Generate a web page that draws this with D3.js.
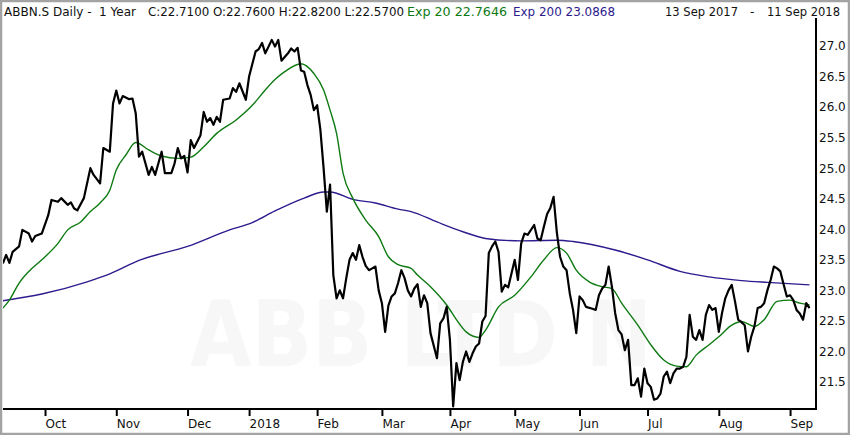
<!DOCTYPE html>
<html lang="en">
<head>
    <meta charset="UTF-8">
    <title>ABBN.S Daily - 1 Year</title>
    <script src="https://d3js.org/d3.v7.min.js"></script>
    <style>
        body { margin: 0; background: #fff; }
        svg text { font-family: "DejaVu Sans", sans-serif; font-size: 12px; fill: #111; }
    </style>
</head>
<body>
    <svg width="850" height="435" id="chart"></svg>

    <script>
        // header texts
        const title = "ABBN.S Daily -\u00a0\u00a01 Year";
        const ohlcText = "C:22.7100 O:22.7600 H:22.8200 L:22.5700";
        const ema20Text = "Exp 20 22.7646";
        const ema200Text = "Exp 200 23.0868";
        const dateFrom = "13 Sep 2017";
        const dateTo = "11 Sep 2018";

        // x axis: trading day index of each month's first session
        const monthLabels = ["Oct", "Nov", "Dec", "2018", "Feb", "Mar", "Apr", "May", "Jun", "Jul", "Aug", "Sep"];
        const monthDay = [13, 35, 57, 76, 97, 117, 138, 158, 178, 199, 221, 243];
        const yTicks = [21.5, 22.0, 22.5, 23.0, 23.5, 24.0, 24.5, 25.0, 25.5, 26.0, 26.5, 27.0];

        // daily close (trading day index)
        const priceDay = [0, 1, 2, 3, 5, 6, 8, 9, 10, 12, 14, 15, 17, 18, 20, 21, 22, 23, 25, 27, 28, 30, 31, 33, 34,
            35, 36, 37, 39, 40, 41, 42, 43, 45, 46, 47, 49, 50, 52, 53, 54, 55, 56, 57, 58, 59, 61, 62, 63, 64,
            65, 66, 67, 68, 70, 71, 72, 73, 75, 76, 78, 79, 80, 81, 82, 83, 84, 85, 86, 87, 88, 89, 90, 91, 92,
            93, 94, 95, 96, 97, 98, 99, 100, 101, 102, 103, 104, 105, 106, 107, 108, 109, 110, 111, 112, 113, 114, 115, 116, 117,
            118, 119, 120, 121, 122, 123, 124, 125, 126, 127, 128, 129, 130, 131, 132, 134, 135, 136, 137, 138, 139, 140, 141, 142, 143,
            144, 145, 146, 147, 148, 149, 150, 151, 152, 153, 154, 155, 156, 158, 159, 160, 161, 162, 164, 165, 166, 167, 168, 169, 170,
            171, 172, 173, 174, 175, 176, 177, 178, 179, 180, 182, 183, 184, 185, 186, 187, 188, 189, 190, 191, 192, 193, 194, 195, 196,
            197, 198, 199, 200, 201, 202, 203, 204, 205, 206, 207, 208, 209, 210, 211, 212, 213, 214, 215, 216, 217, 218, 219, 220, 221,
            222, 223, 224, 225, 226, 227, 228, 229, 230, 231, 232, 233, 234, 235, 236, 237, 238, 239, 240, 241, 242, 243, 244, 245, 246,
            247, 248, 249];
        const priceVal = [23.44, 23.58, 23.45, 23.63, 23.72, 23.99, 23.93, 23.80, 23.89, 23.93, 24.23, 24.48, 24.45, 24.51, 24.40, 24.44, 24.34, 24.31, 24.51, 25.00, 24.89, 24.75, 25.33, 25.27, 26.06,
            26.27, 26.06, 26.18, 26.13, 26.14, 25.90, 25.19, 25.27, 24.89, 25.02, 24.89, 25.27, 24.92, 24.92, 25.08, 25.33, 25.16, 25.20, 24.93, 25.46, 25.33, 25.54, 25.92, 25.76, 25.82,
            25.71, 25.84, 25.76, 26.12, 26.14, 26.31, 26.25, 26.39, 26.12, 26.50, 26.91, 26.95, 27.05, 26.88, 26.99, 27.10, 26.99, 27.10, 26.76, 26.82, 26.88, 26.96, 26.91, 26.97, 26.60,
            26.58, 26.36, 26.20, 25.95, 26.03, 25.63, 25.00, 24.29, 24.73, 23.25, 22.87, 23.00, 22.87, 23.20, 23.50, 23.61, 23.50, 23.74, 23.55, 23.40, 23.33, 23.36, 23.39, 23.00, 22.79,
            22.32, 22.75, 22.90, 22.95, 23.12, 23.33, 23.20, 23.00, 22.90, 23.03, 23.10, 22.73, 22.92, 22.79, 22.30, 21.89, 22.46, 22.54, 22.73, 22.19, 21.10, 21.81, 21.53, 21.83, 22.00,
            21.83, 21.97, 22.08, 22.13, 22.49, 22.58, 23.61, 23.72, 23.80, 23.63, 22.98, 23.09, 23.05, 23.50, 23.17, 23.77, 23.93, 23.91, 24.07, 23.85, 23.82, 24.04, 24.25, 24.35, 24.53,
            23.95, 23.55, 23.39, 23.33, 22.95, 22.68, 22.30, 22.90, 22.84, 22.73, 22.70, 22.68, 22.92, 23.03, 23.09, 23.39, 23.06, 22.63, 22.35, 22.28, 22.02, 22.19, 21.45, 21.45, 21.56,
            21.26, 21.72, 21.48, 21.42, 21.21, 21.23, 21.31, 21.59, 21.67, 21.48, 21.64, 21.72, 21.72, 21.75, 21.91, 22.60, 22.24, 22.19, 22.35, 22.19, 22.60, 22.76, 22.68, 22.71, 22.32,
            22.63, 22.87, 23.00, 23.09, 22.82, 22.52, 22.48, 22.43, 22.00, 22.24, 22.41, 22.71, 22.73, 22.79, 23.00, 23.17, 23.39, 23.36, 23.31, 23.10, 22.90, 22.92, 22.84, 22.68, 22.62,
            22.52, 22.79, 22.71];

        // exponential averages as drawn
        const ema20Day = [0, 2, 5, 8, 12, 17, 20, 24, 27, 30, 33, 35, 38, 41, 45, 49, 54, 58, 62, 66, 72, 77, 81, 84, 87,
            92, 96, 99, 101, 103, 105, 108, 112, 116, 119, 122, 126, 128, 132, 137, 140, 143, 147, 149, 153, 158, 163, 167, 171, 174,
            177, 181, 185, 188, 191, 196, 200, 204, 208, 211, 214, 218, 221, 225, 228, 232, 235, 239, 243, 246, 249];
        const ema20Val = [22.71, 22.84, 23.12, 23.31, 23.50, 23.77, 23.99, 24.12, 24.29, 24.43, 24.64, 24.97, 25.22, 25.42, 25.30, 25.20, 25.16, 25.18, 25.35, 25.57, 25.79, 26.03, 26.28, 26.45, 26.58,
            26.71, 26.55, 26.28, 25.95, 25.57, 24.92, 24.51, 24.15, 23.88, 23.55, 23.42, 23.36, 23.25, 23.06, 22.76, 22.52, 22.32, 22.23, 22.35, 22.73, 22.92, 23.22, 23.50, 23.70, 23.61,
            23.33, 23.14, 23.06, 23.03, 22.79, 22.43, 22.11, 21.86, 21.76, 21.75, 21.94, 22.11, 22.24, 22.43, 22.49, 22.41, 22.52, 22.82, 22.84, 22.79, 22.76];
        const ema200Day = [0, 12, 26, 33, 42, 57, 70, 77, 84, 93, 99, 101, 108, 115, 122, 126, 134, 142, 149, 160, 171, 176, 189, 199, 209,
            218, 228, 236, 249];
        const ema200Val = [22.83, 22.94, 23.14, 23.27, 23.49, 23.72, 23.99, 24.11, 24.30, 24.51, 24.61, 24.61, 24.49, 24.43, 24.33, 24.29, 24.12, 23.96, 23.85, 23.81, 23.82, 23.80, 23.66, 23.50, 23.31,
            23.22, 23.16, 23.13, 23.09];

        const green = "#0e7a12";
        const purple = "#2d1b8e";

        const plot = { left: 3, right: 816, top: 18, bottom: 409 };

        const svg = d3.select("#chart");

        //outer frame
        svg.append("rect")
            .attr("x", 1).attr("y", 1)
            .attr("width", 848).attr("height", 433)
            .attr("fill", "#fff")
            .attr("stroke", "#a3a3a3")
            .attr("stroke-width", 2.5);

        const x = d3.scaleLinear()
            .domain([0, 249])
            .range([2.9, 809.5]);
        const y = d3.scaleLinear()
            .domain([21.5, 27])
            .range([382, 46]);

        svg.append("clipPath").attr("id", "clip")
            .append("rect")
            .attr("x", plot.left).attr("y", plot.top)
            .attr("width", plot.right - plot.left).attr("height", plot.bottom - plot.top);

        //watermark
        svg.append("text")
            .attr("x", 190)
            .attr("y", 366)
            .attr("textLength", 462)
            .attr("lengthAdjust", "spacingAndGlyphs")
            .style("font-size", "90px")
            .style("font-weight", "bold")
            .style("fill", "#f7f7f7")
            .text("ABB LTD N");

        const g = svg.append("g").attr("clip-path", "url(#clip)");

        const seriesLine = d3.line()
            .x(d => x(d[0]))
            .y(d => y(d[1]));
        const smoothLine = d3.line()
            .x(d => x(d[0]))
            .y(d => y(d[1]))
            .curve(d3.curveMonotoneX);

        //exp 200
        g.append("path")
            .datum(d3.zip(ema200Day, ema200Val))
            .attr("fill", "none")
            .attr("stroke", purple)
            .attr("stroke-width", 1.4)
            .attr("d", smoothLine);
        //exp 20
        g.append("path")
            .datum(d3.zip(ema20Day, ema20Val))
            .attr("fill", "none")
            .attr("stroke", green)
            .attr("stroke-width", 1.4)
            .attr("d", smoothLine);
        //close
        g.append("path")
            .datum(d3.zip(priceDay, priceVal))
            .attr("fill", "none")
            .attr("stroke", "#000")
            .attr("stroke-width", 2.2)
            .attr("stroke-linejoin", "round")
            .attr("d", seriesLine);

        //bottom axis
        const xAxis = svg.append("g")
            .attr("transform", `translate(0,${plot.bottom})`)
            .call(d3.axisBottom(x)
                .tickValues(monthDay)
                .tickFormat((d, i) => monthLabels[i])
                .tickSizeInner(7)
                .tickSizeOuter(0)
                .tickPadding(3));
        xAxis.select(".domain").remove();
        xAxis.selectAll(".tick line").attr("stroke", "#000").attr("stroke-width", 2);
        xAxis.selectAll(".tick text")
            .attr("text-anchor", "start")
            .attr("x", 0)
            .style("font-size", "12px")
            .attr("fill", "#111");

        //right axis
        const yAxis = svg.append("g")
            .attr("transform", `translate(${plot.right},0)`)
            .call(d3.axisRight(y)
                .tickValues(yTicks)
                .tickFormat(d3.format(".1f"))
                .tickSize(0)
                .tickPadding(3));
        yAxis.select(".domain").remove();
        yAxis.selectAll(".tick text")
            .style("font-size", "12px")
            .attr("fill", "#111");

        svg.append("line")
            .attr("x1", plot.left).attr("x2", plot.right + 1)
            .attr("y1", plot.bottom).attr("y2", plot.bottom)
            .attr("stroke", "#000").attr("stroke-width", 2);
        svg.append("line")
            .attr("x1", plot.right).attr("x2", plot.right)
            .attr("y1", plot.top).attr("y2", plot.bottom + 1)
            .attr("stroke", "#000").attr("stroke-width", 2);

        //header, each piece fitted to its width in the reference
        const header = svg.append("g").attr("transform", "translate(0,16)");
        const headerText = (x0, w, str, col) => header.append("text")
            .attr("x", x0)
            .attr("textLength", w)
            .attr("lengthAdjust", "spacingAndGlyphs")
            .style("fill", col || "#111")
            .text(str);
        headerText(4, 132, title);
        headerText(148, 256, ohlcText);
        headerText(407, 100, ema20Text, green);
        headerText(513, 102, ema200Text, purple);
        headerText(665, 73, dateFrom);
        header.append("text").attr("x", 750).text("-");
        headerText(767, 73, dateTo);
    </script>
</body>
</html>
